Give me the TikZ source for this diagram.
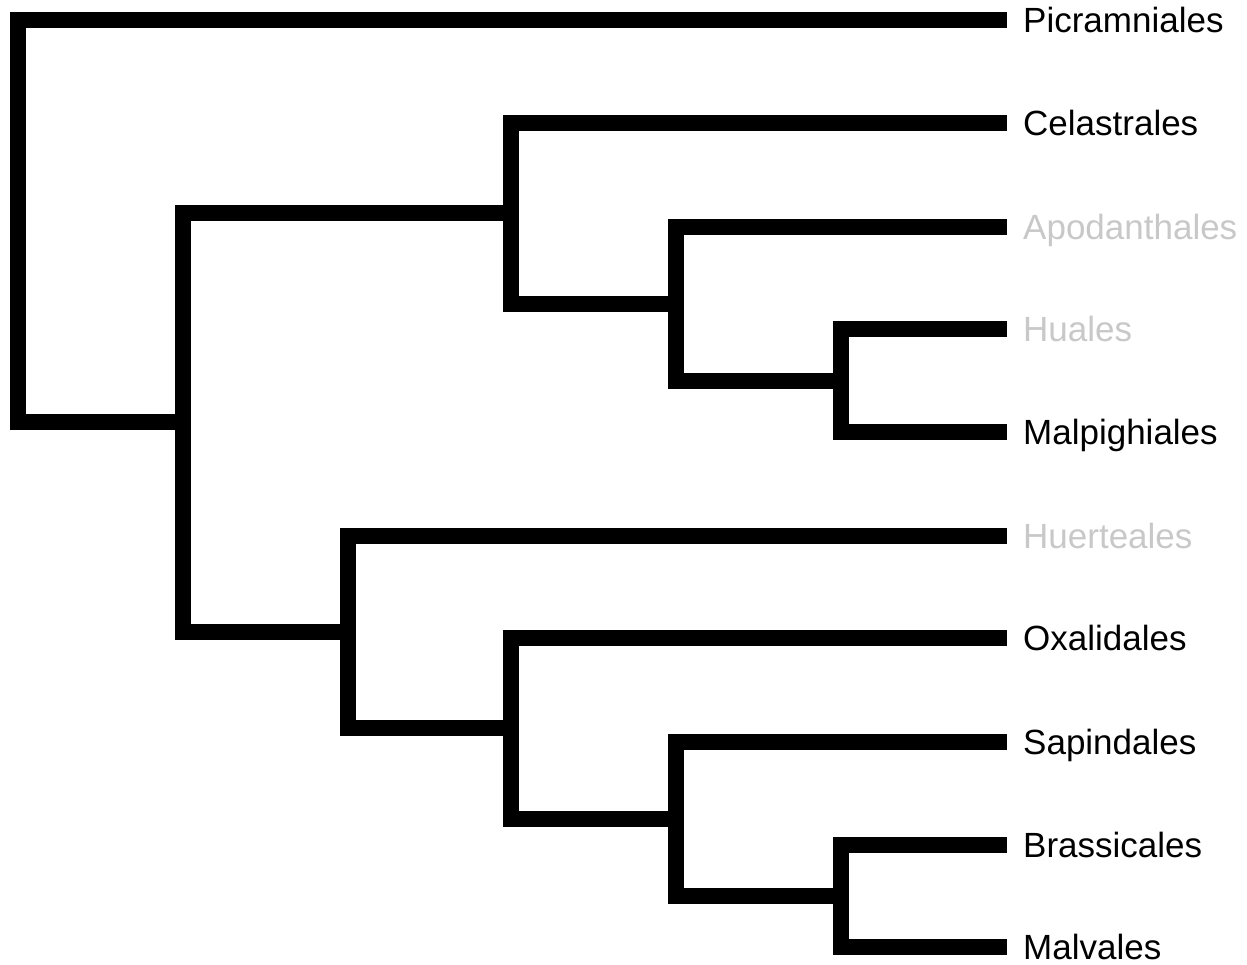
\documentclass[tikz,border=0pt]{standalone}
\usepackage{fontspec}
\setmainfont{Liberation Sans}
\usetikzlibrary{calc}
\definecolor{fadedgray}{RGB}{200,200,200}
\begin{document}
\begin{tikzpicture}[x=1pt,y=-1pt,
  branch/.style={line width=16pt, line join=miter, line cap=butt, draw=black},
  taxon/.style={anchor=base west, inner sep=0pt, font=\fontsize{35}{42}\selectfont, text=black},
  faded/.style={text=fadedgray}]
\useasboundingbox (0,0) rectangle (1247,964);
% tips
\coordinate (t1) at (1007,20);
\coordinate (t2) at (1007,123);
\coordinate (t3) at (1007,227);
\coordinate (t4) at (1007,329);
\coordinate (t5) at (1007,432);
\coordinate (t6) at (1007,536);
\coordinate (t7) at (1007,638);
\coordinate (t8) at (1007,742);
\coordinate (t9) at (1007,845);
\coordinate (t10) at (1007,947);
% internal nodes
\coordinate (root) at (18,221);
\coordinate (nA) at (183,422);
\coordinate (nB) at (511,213);
\coordinate (nC) at (676,304);
\coordinate (nD) at (841,380.5);
\coordinate (nE) at (348,632);
\coordinate (nF) at (511,728);
\coordinate (nG) at (676,819);
\coordinate (nH) at (841,896);
% branches
\draw[branch] (t1) -| (root) |- (nA);
\draw[branch] (nB) -| (nA) |- (nE);
\draw[branch] (t2) -| (nB) |- (nC);
\draw[branch] (t3) -| (nC) |- (nD);
\draw[branch] (t4) -| (nD) |- (t5);
\draw[branch] (t6) -| (nE) |- (nF);
\draw[branch] (t7) -| (nF) |- (nG);
\draw[branch] (t8) -| (nG) |- (nH);
\draw[branch] (t9) -| (nH) |- (t10);
% labels
\node[taxon] (l1) at ($(t1)+(16,12.5)$) {Picramniales};
\node[taxon] (l2) at ($(t2)+(16,12.5)$) {Celastrales};
\node[taxon,faded] (l3) at ($(t3)+(16,12.5)$) {Apodanthales};
\node[taxon,faded] (l4) at ($(t4)+(16,12.5)$) {Huales};
\node[taxon] (l5) at ($(t5)+(16,12.5)$) {Malpighiales};
\node[taxon,faded] (l6) at ($(t6)+(16,12.5)$) {Huerteales};
\node[taxon] (l7) at ($(t7)+(16,12.5)$) {Oxalidales};
\node[taxon] (l8) at ($(t8)+(16,12.5)$) {Sapindales};
\node[taxon] (l9) at ($(t9)+(16,12.5)$) {Brassicales};
\node[taxon] (l10) at ($(t10)+(16,12.5)$) {Malvales};
\end{tikzpicture}
\end{document}
